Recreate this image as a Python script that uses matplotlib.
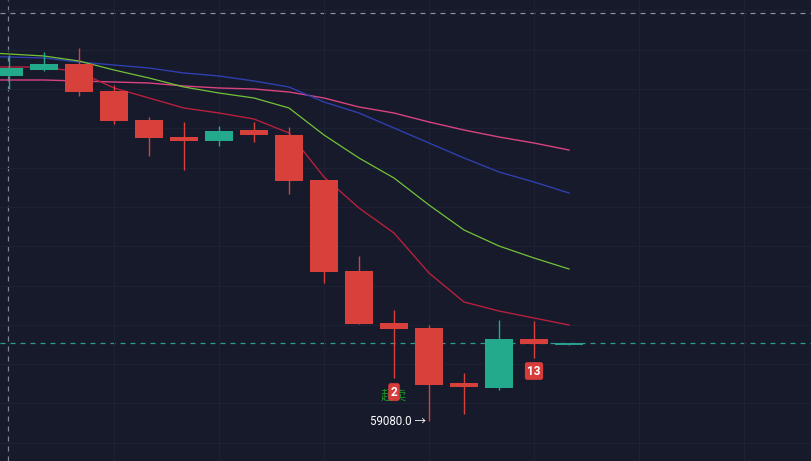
import matplotlib
matplotlib.use("Agg")
import matplotlib.pyplot as plt
from matplotlib.ticker import MultipleLocator
from matplotlib.patches import Rectangle

plt.rcParams['font.family'] = ['Roboto', 'Noto Sans CJK SC', 'DejaVu Sans']

# ---- data ----
opens  = [62530, 62590, 62650, 62380, 62090, 61920, 61880, 61990, 61940, 61490, 60580, 60060, 60010, 59460, 59410, 59900, 59840]
highs  = [62740, 62770, 62810, 62440, 62120, 62070, 62030, 62070, 62020, 61490, 60730, 60190, 60040, 59560, 60090, 60080, 59860]
lows   = [62400, 62580, 62330, 62050, 61730, 61590, 61830, 61870, 61350, 60460, 60050, 59510, 59080, 59150, 59390, 59710, 59840]
closes = [62610, 62650, 62370, 62080, 61910, 61880, 61980, 61940, 61480, 60570, 60050, 60000, 59440, 59420, 59900, 59850, 59860]

# moving averages, starting one bar before the first visible candle
ma_red   = [62620, 62620, 62620, 62570, 62410, 62310, 62210, 62160, 62100, 61960, 61520, 61210, 60960, 60560, 60270, 60180, 60110, 60040]
ma_green = [62770, 62750, 62730, 62680, 62590, 62510, 62420, 62360, 62310, 62210, 61940, 61710, 61510, 61240, 60990, 60830, 60710, 60600]
ma_blue  = [62730, 62720, 62710, 62670, 62640, 62610, 62560, 62530, 62480, 62420, 62270, 62160, 62010, 61860, 61710, 61570, 61470, 61360]
ma_pink  = [62490, 62490, 62490, 62480, 62470, 62460, 62430, 62410, 62400, 62370, 62310, 62220, 62160, 62070, 61990, 61920, 61860, 61790]

last_price = 59860
upper_level = 63160
low_label = "59080.0 →"
signal_labels = {11: "2", 15: "13"}
signal_text = "超卖"

# ---- style ----
BG = '#161a2b'
UP = '#23a98b'
DOWN = '#d8403c'

fig = plt.figure(figsize=(8.11, 4.61), dpi=100)
fig.patch.set_facecolor(BG)
ax = fig.add_axes([0, 0, 1, 1])
ax.set_facecolor(BG)

n = len(opens)
xs = list(range(n))
bw = 0.78
for i in xs:
    o, h, l, c = opens[i], highs[i], lows[i], closes[i]
    col = UP if c >= o else DOWN
    if i == n - 1:
        col = '#2a9d8f'
    ax.vlines(i, l, h, color=col, lw=1.0, zorder=3)
    bottom = min(o, c)
    height = max(abs(c - o), 12)
    ax.add_patch(Rectangle((i - bw / 2, bottom), bw, height, facecolor=col,
                           edgecolor='none', zorder=4))

ma_x = list(range(-1, n))
ax.plot(ma_x, ma_pink, color='#d9437f', lw=1.0, zorder=2)
ax.plot(ma_x, ma_blue, color='#2f3fae', lw=1.0, zorder=2)
ax.plot(ma_x, ma_green, color='#74c238', lw=0.9, zorder=2)
ax.plot(ma_x, ma_red, color='#b8203c', lw=1.0, zorder=2)

# reference lines
ax.axhline(last_price, color='#2a9d8f', lw=0.9, ls=(0, (4, 4)), zorder=1)
ax.axhline(upper_level, color='#8a8f9e', lw=0.9, ls=(0, (4, 4)), zorder=1)
ax.axvline(-0.03, color='#8a8f9e', lw=0.9, ls=(0, (4, 4)), zorder=1)

# signal badges
ax.annotate(signal_text, (11, lows[11]), xytext=(0, -18), textcoords='offset pixels',
            ha='center', va='center', color='#1f9c2a', fontsize=9.5, zorder=5,
            family=['Noto Sans CJK SC', 'DejaVu Sans'], alpha=0.9)
for idx, lab in signal_labels.items():
    off = -14 if lab == "2" else -13
    ax.annotate(lab, (idx, lows[idx]), xytext=(0, off), textcoords='offset pixels',
                ha='center', va='center', color='white', fontsize=8.5,
                fontweight='bold', zorder=6,
                bbox=dict(boxstyle='round,pad=0.2', fc='#d63c3c', ec='none'))

ax.annotate(low_label, (12, lows[12]), xytext=(-3, 0), textcoords='offset pixels',
            ha='right', va='center', color='white', fontsize=8.3, zorder=6)

ax.set_xlim(-9 / 35, (811 - 9) / 35)
ax.set_ylim(58680, 63290)

ax.yaxis.set_major_locator(MultipleLocator(393, offset=306))
ax.xaxis.set_major_locator(MultipleLocator(3))
ax.grid(True, color='#1c2134', lw=0.8, zorder=0)
ax.tick_params(length=0, labelleft=False, labelbottom=False)
for s in ax.spines.values():
    s.set_visible(False)

fig.savefig('out.png', dpi=100, facecolor=BG)
